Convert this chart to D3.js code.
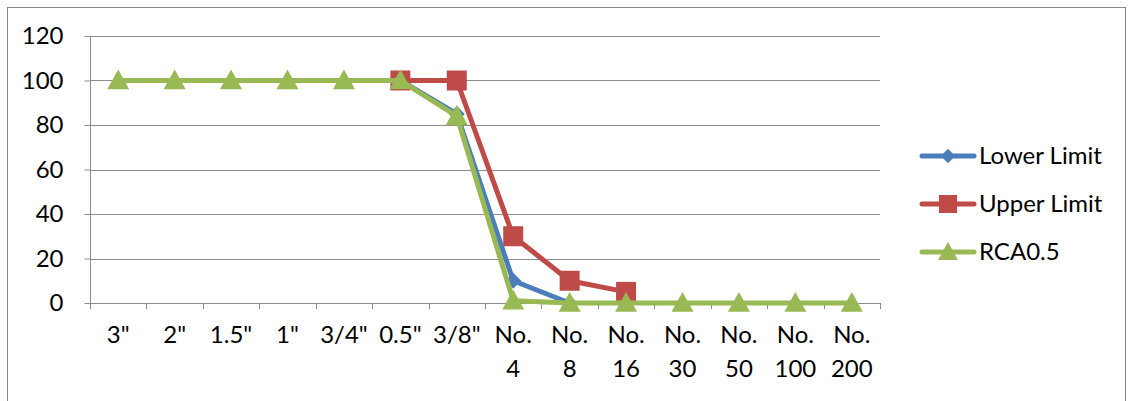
<!DOCTYPE html>
<html>
<head>
<meta charset="utf-8">
<script src="https://cdn.jsdelivr.net/npm/d3@7"></script>
<style>
  html, body { margin: 0; padding: 0; background: #fff; }
  svg { display: block; font-family: Lato, "Open Sans", sans-serif; }
</style>
</head>
<body>
<svg id="chart" width="1133" height="401"></svg>
<script>
// Sieve sizes along the x axis
const categories = ['3"', '2"', '1.5"', '1"', '3/4"', '0.5"', '3/8"', 'No. 4', 'No. 8', 'No. 16', 'No. 30', 'No. 50', 'No. 100', 'No. 200'];

// Percent passing for each curve (null = no point at that sieve)
const lowerLimit = [null, null, null, null, null, 100, 85, 10, 0, null, null, null, null, null];
const upperLimit = [null, null, null, null, null, 100, 100, 30, 10, 5, null, null, null, null];
const rca05      = [100, 100, 100, 100, 100, 100, 84, 1, 0, 0, 0, 0, 0, 0];

const yTicks = [0, 20, 40, 60, 80, 100, 120];

const seriesList = [
  { name: "Lower Limit", values: lowerLimit, color: "#4a7ebb", marker: "diamond" },
  { name: "Upper Limit", values: upperLimit, color: "#be4b48", marker: "square" },
  { name: "RCA0.5",      values: rca05,      color: "#98b954", marker: "triangle" }
];

const FS = 24;
const svg = d3.select("#chart");
const plot = { left: 90, right: 880, top: 36, bottom: 303 };

// chart frame
svg.append("rect")
  .attr("x", 7.5).attr("y", 7.5)
  .attr("width", 1118).attr("height", 410)
  .attr("fill", "#fff").attr("stroke", "#888").attr("stroke-width", 1);

const x = d3.scaleBand().domain(categories).range([plot.left, plot.right]).padding(0);
const y = d3.scaleLinear().domain([0, 120]).range([plot.bottom, plot.top]);

// horizontal gridlines
svg.append("g").selectAll("line").data(yTicks.filter(t => t > 0)).join("line")
  .attr("x1", plot.left).attr("x2", plot.right)
  .attr("y1", d => Math.round(y(d)) + 0.5).attr("y2", d => Math.round(y(d)) + 0.5)
  .attr("stroke", "#8c8c8c").attr("stroke-width", 1);

// y axis
const yAxis = svg.append("g")
  .attr("transform", `translate(${plot.left + 0.5},0)`)
  .call(d3.axisLeft(y).tickValues(yTicks).tickSize(6).tickPadding(21));
yAxis.select(".domain").attr("stroke", "#8c8c8c").attr("d", `M-0,${plot.top}V${plot.bottom}`);
yAxis.selectAll(".tick line").attr("stroke", "#8c8c8c");
yAxis.selectAll(".tick text").attr("font-size", FS).attr("fill", "#000")
  .attr("font-family", "Lato, 'Open Sans', sans-serif");

// x axis line with ticks at category boundaries
const xg = svg.append("g");
xg.append("line")
  .attr("x1", plot.left).attr("x2", plot.right)
  .attr("y1", plot.bottom + 0.5).attr("y2", plot.bottom + 0.5)
  .attr("stroke", "#8c8c8c");
const bounds = categories.map(c => x(c)).concat([plot.right]);
xg.selectAll("line.tk").data(bounds).join("line").attr("class", "tk")
  .attr("x1", d => Math.round(d) + 0.5).attr("x2", d => Math.round(d) + 0.5)
  .attr("y1", plot.bottom).attr("y2", plot.bottom + 6)
  .attr("stroke", "#8c8c8c");

// category labels (wrapped onto two lines where they contain a space)
const lbl = xg.selectAll("text").data(categories).join("text")
  .attr("x", d => x(d) + x.bandwidth() / 2)
  .attr("y", 343)
  .attr("text-anchor", "middle")
  .attr("font-size", FS).attr("fill", "#000");
lbl.each(function(d) {
  const parts = d.split(" ");
  const t = d3.select(this);
  parts.forEach((p, i) => {
    t.append("tspan").attr("x", x(d) + x.bandwidth() / 2).attr("dy", i === 0 ? 0 : 34).text(p);
  });
});

// marker shapes
function drawMarker(g, type, cx, cy, color, scale = 1) {
  if (type === "diamond") {
    const s = 8 * scale;
    g.append("path").attr("d", `M${cx},${cy - s}L${cx + s},${cy}L${cx},${cy + s}L${cx - s},${cy}Z`).attr("fill", color);
  } else if (type === "square") {
    const s = 10 * scale;
    g.append("rect").attr("x", cx - s).attr("y", cy - s).attr("width", 2 * s).attr("height", 2 * s).attr("fill", color);
  } else {
    const s = 11 * scale;
    g.append("path").attr("d", `M${cx},${cy - s}L${cx + s},${cy + s * 0.8}L${cx - s},${cy + s * 0.8}Z`).attr("fill", color);
  }
}

const cx = c => x(c) + x.bandwidth() / 2;
const line = d3.line()
  .defined(d => d.v !== null)
  .x(d => cx(d.c)).y(d => y(d.v));

seriesList.forEach(s => {
  const pts = categories.map((c, i) => ({ c, v: s.values[i] }));
  const g = svg.append("g");
  g.append("path").datum(pts).attr("d", line)
    .attr("fill", "none").attr("stroke", s.color).attr("stroke-width", 5)
    .attr("stroke-linejoin", "round").attr("stroke-linecap", "round");
  pts.filter(p => p.v !== null).forEach(p => drawMarker(g, s.marker, cx(p.c), y(p.v), s.color));
});

// legend
const legend = svg.append("g");
seriesList.forEach((s, i) => {
  const ly = 156 + i * 48;
  legend.append("line").attr("x1", 922).attr("x2", 974).attr("y1", ly).attr("y2", ly)
    .attr("stroke", s.color).attr("stroke-width", 5).attr("stroke-linecap", "round");
  drawMarker(legend, s.marker, 948, ly, s.color, 0.9);
  legend.append("text").attr("x", 979).attr("y", ly + 8)
    .attr("font-size", FS).attr("fill", "#000").text(s.name);
});
</script>
</body>
</html>
